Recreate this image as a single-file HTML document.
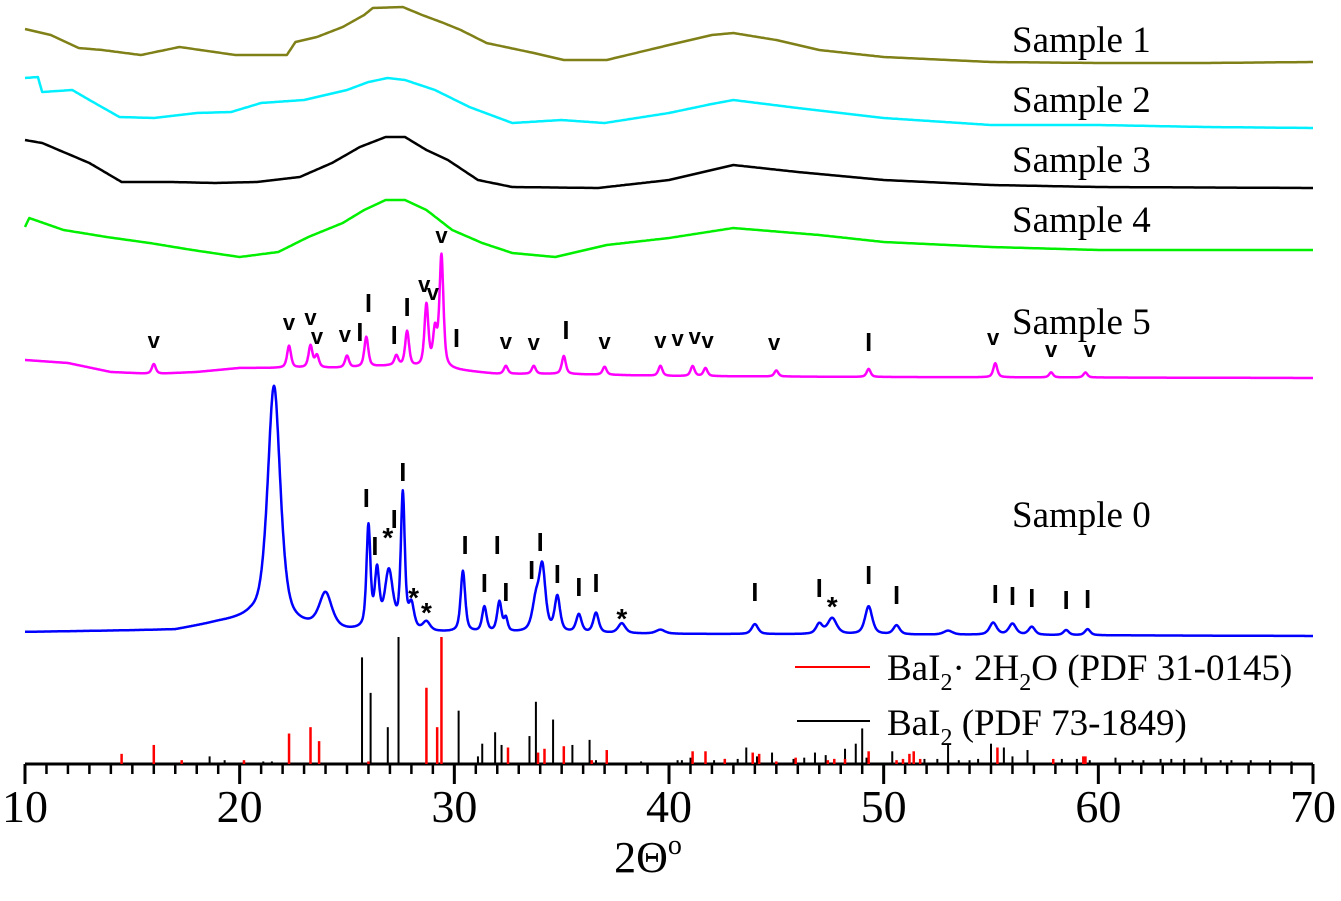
<!DOCTYPE html>
<html><head><meta charset="utf-8"><style>
html,body{margin:0;padding:0;background:#fff;}
svg{display:block;}
text{font-family:"Liberation Serif",serif;}
.m{font-family:"Liberation Sans",sans-serif;font-weight:bold;}
</style></head><body>
<svg id="chart" width="1341" height="901" viewBox="0 0 1341 901" xmlns="http://www.w3.org/2000/svg"></svg>
<script>
// ---- data ----
const xTicks = [10,20,30,40,50,60,70];
const s1T = [10,11.2,12.5,13.6,15.4,17.2,19.8,22.2,22.6,23.6,24.8,25.8,26.2,27.6,28.5,29.5,30.3,31.5,33.7,35.1,37.1,40,42,43,45,47,50,55,60,65,70];
const s1V = [751,745,732,730,725,733,725,725,738,743,753,765,772,773,765,757,750,737,727,720,720,735,745,747,740,730,723,718,717,717,718];
const s2T = [10,10.6,10.8,12.2,13,14.4,16,18,19.6,21,23,25,26,26.9,27.7,29.1,30.7,31.7,32.7,35,37,40,42,43,46,50,55,60,65,70];
const s2V = [702,703,688,690,680,663,662,667,668,677,680,690,698,702,700,690,673,665,657,660,657,667,676,680,672,662,655,655,653,652];
const s3T = [10,10.8,13,14.5,16.9,18.8,20.8,22.8,24.3,25.6,26.8,27.7,28.7,29.7,31.1,32.7,36.7,40,42,43,46,50,55,60,70];
const s3V = [640,637,617,598,598,597,598,603,617,633,643,643,630,620,600,593,592,600,610,615,608,600,595,593,592];
const s4T = [10,10.2,11.8,13.8,15.8,17.8,20,21.8,23.2,24.8,25.8,26.8,27.7,28.7,29.9,31.3,32.7,34.7,37.1,40,43,47,50,55,60,70];
const s4V = [553,562,550,543,537,530,523,528,543,557,570,580,580,570,550,537,527,523,535,542,552,545,538,533,530,530];
const s5BaseT = [10,12,14,16,18,20,22,25,27,30,32,35,40,50,70];
const s5BaseV = [420,417,408,406,408,412,412,412,414,410,406,406,404,403,402];
const s5PeakPos = [16.0,22.3,23.3,23.6,25.0,25.9,27.3,27.8,28.7,29.1,29.4,32.4,33.7,35.1,37.0,39.6,41.1,41.7,45.0,49.3,55.2,57.8,59.4];
const s5PeakH   = [10,22,22,12,12,30,10,35,62,35,112,8,8,18,8,10,10,8,6,8,14,5,5];
const s0BaseT = [10,17,19,20.5,22.5,25,30,40,70];
const s0BaseV = [148,150,157,160,152,148,147,146,144];
const s0PeakPos = [21.6,24.0,26.0,26.4,26.95,27.6,28.0,28.7,30.4,31.4,32.1,32.4,33.8,34.1,34.8,35.8,36.6,37.8,39.6,44.0,47.0,47.6,49.3,50.6,53.0,55.1,56.0,56.9,58.5,59.5];
const s0PeakH   = [238,35,102,56,58,135,24,9,61,25,30,13,30,62,35,18,20,10,4,10,10,16,28,9,4,12,11,8,5,6];
const s0PeakW   = [0.7,0.7,0.22,0.25,0.45,0.22,0.3,0.4,0.25,0.25,0.25,0.2,0.4,0.35,0.3,0.3,0.3,0.4,0.5,0.35,0.35,0.5,0.4,0.35,0.5,0.4,0.4,0.35,0.3,0.3];
const redPos = [14.5,16.0,17.3,20.2,22.3,23.3,23.7,26.0,28.7,29.2,29.4,32.5,33.9,34.2,35.1,36.4,37.1,41.1,41.7,42.6,43.9,44.2,45.0,45.9,47.4,47.7,48.2,49.3,50.6,50.9,51.2,51.4,51.7,55.3,57.9,59.3,59.4];
const redH   = [8,15,3,3,24,29,18,2,60,29,100,13,9,12,14,3,11,10,10,4,9,8,2,5,3,4,4,10,3,4,8,10,4,13,4,6,6];
const blkPos = [17.0,18.6,19.3,21.1,21.5,25.7,26.1,26.9,27.4,30.2,31.1,31.3,31.9,32.2,33.5,33.8,34.6,35.5,36.3,36.6,38.7,40.4,40.6,41.0,42.1,42.6,43.2,43.6,44.1,44.8,45.8,46.3,46.8,47.3,47.7,48.2,48.7,49.0,49.2,50.4,51.9,52.5,53.0,53.5,54.0,54.4,55.0,55.6,56.0,56.7,58.3,59.0,59.6,60.8,61.6,62.1,62.9,63.4,64.0,64.8,65.7,66.2,67.1,68.0,69.0];
const blkH   = [1,6,3,2,2,84,56,29,100,42,6,16,25,15,22,49,35,15,19,3,2,3,3,5,3,4,4,13,6,9,4,5,9,7,4,12,16,28,5,10,4,4,16,3,3,4,16,13,6,11,4,4,3,5,3,3,4,4,4,5,3,3,3,3,2];
const s5MarkSym = ['v','v','v','v','v','I','I','I','I','v','v','v','I','v','v','I','v','v','v','v','v','v','I','v','v','v'];
const s5MarkT   = [16.0,22.3,23.3,23.6,24.9,25.6,26.0,27.2,27.8,28.6,29.0,29.4,30.1,32.4,33.7,35.2,37.0,39.6,40.4,41.2,41.8,44.9,49.3,55.1,57.8,59.6];
const s5MarkV   = [432,450,455,436,438,440,469,437,465,488,480,537,434,431,430,442,431,432,434,436,432,430,430,435,423,423];
const s0MarkSym = ['I','I','*','I','I','*','*','I','I','I','I','I','I','I','I','I','*','I','I','*','I','I','I','I','I','I','I'];
const s0MarkT   = [25.9,26.3,26.9,27.2,27.6,28.1,28.7,30.5,31.4,32.0,32.4,33.6,34.0,34.8,35.8,36.6,37.8,44.0,47.0,47.6,49.3,50.6,55.2,56.0,56.9,58.5,59.5];
const s0MarkV   = [274,226,245,253,300,185,170,227,189,227,180,202,230,198,185,189,164,180,184,176,197,177,178,176,174,172,173];
const sampleLabels = ['Sample 1','Sample 2','Sample 3','Sample 4','Sample 5','Sample 0'];
const sampleLabelV = [740,680,620,560,458,265];

// ---- scales ----
const X0=25, X1=1313, AX_Y=764;
const xS = t => X0 + (t-10)*(X1-X0)/60;
const yS = v => 780 - v;
const stickS = h => AX_Y - h*1.27;

const NS="http://www.w3.org/2000/svg";
const svg=document.getElementById('chart');
function mk(tag,attrs,parent){const e=document.createElementNS(NS,tag);for(const k in attrs)e.setAttribute(k,attrs[k]);(parent||svg).appendChild(e);return e;}
function interp(T,V,t){if(t<=T[0])return V[0];for(let i=1;i<T.length;i++){if(t<=T[i]){const f=(t-T[i-1])/(T[i]-T[i-1]);return V[i-1]+f*(V[i]-V[i-1]);}}return V[V.length-1];}
function smoothPath(T,V){let d='';for(let t=10;t<=70.001;t+=0.1){const v=interp(T,V,t);d+=(d?'L':'M')+xS(t).toFixed(1)+','+yS(v).toFixed(1);}return d;}
function peakPath(BT,BV,P,H,W){let d='';for(let t=10;t<=70.001;t+=0.02){let v=interp(BT,BV,t);for(let i=0;i<P.length;i++){const w=W?W[i]:0.22;const z=(t-P[i])/(w/2);v+=H[i]*(0.6/(1+z*z)+0.4*Math.exp(-0.693*z*z));}d+=(d?'L':'M')+xS(t).toFixed(1)+','+yS(v).toFixed(1);}return d;}

const axis=mk('g',{});


mk('line',{x1:X0,y1:AX_Y,x2:X1,y2:AX_Y,stroke:'#000','stroke-width':3},axis);
for(let t=10;t<=70;t++){
  const major=(t%10===0);
  const tk=mk('line',{x1:xS(t),y1:AX_Y,x2:xS(t),y2:AX_Y+(major?20:10),stroke:'#000','stroke-width':major?3:2.5},axis);
  
  
}
xTicks.forEach(t=>{
  const lb=mk('text',{x:xS(t),y:822,'font-size':46,'text-anchor':'middle',fill:'#000'},axis);
  lb.textContent=t;
  
  
});
const xt=mk('text',{x:648,y:872,'font-size':44,'text-anchor':'middle',fill:'#000'});
xt.textContent='2Θ';
const sup=mk('tspan',{'font-size':28,dy:-18},xt);sup.textContent='o';



const sticks=mk('g',{});


blkPos.forEach((p,i)=>{const l=mk('line',{x1:xS(p),x2:xS(p),y1:AX_Y,y2:stickS(blkH[i]),stroke:'#000','stroke-width':2},sticks);
  
  });
redPos.forEach((p,i)=>{const l=mk('line',{x1:xS(p),x2:xS(p),y1:AX_Y,y2:stickS(redH[i]),stroke:'#ff0000','stroke-width':2.5},sticks);
  
  });

const curves=[
 ['sample-1-curve',smoothPath(s1T,s1V),'#808018'],
 ['sample-2-curve',smoothPath(s2T,s2V),'#00f0ff'],
 ['sample-3-curve',smoothPath(s3T,s3V),'#000000'],
 ['sample-4-curve',smoothPath(s4T,s4V),'#00f000'],
 ['sample-5-curve',peakPath(s5BaseT,s5BaseV,s5PeakPos,s5PeakH,null),'#ff00ff'],
 ['sample-0-curve',peakPath(s0BaseT,s0BaseV,s0PeakPos,s0PeakH,s0PeakW),'#0000ff']
];
curves.forEach(c=>{const p=mk('path',{d:c[1],fill:'none',stroke:c[2],'stroke-width':2.5,'stroke-linejoin':'round'});
  
  });

function marker(sym,t,v){
  if(sym==='I'){const r=mk('rect',{x:xS(t)-1.8,y:yS(v)-17,width:3.6,height:18,fill:'#000'});
    
    }
  else{const tx=mk('text',{x:xS(t),y:yS(v)+(sym==='*'?12:0),'text-anchor':'middle',class:'m',fill:'#000','font-size':sym==='*'?28:22});
    tx.textContent=sym;
    
    }
}
s5MarkSym.forEach((s,i)=>marker(s,s5MarkT[i],s5MarkV[i]));
s0MarkSym.forEach((s,i)=>marker(s,s0MarkT[i],s0MarkV[i]));

sampleLabels.forEach((s,i)=>{const tx=mk('text',{x:1012,y:yS(sampleLabelV[i])+12,'font-size':37,fill:'#000'});
  tx.textContent=s;
  
  });

const lg=mk('g',{});


const e1=mk('g',{},lg);


mk('line',{x1:795,x2:870,y1:667,y2:667,stroke:'#ff0000','stroke-width':2},e1);
const t1=mk('text',{x:887,y:680,'font-size':37,fill:'#000'},e1);
t1.innerHTML='BaI<tspan font-size="24" dy="10">2</tspan><tspan dy="-10">· 2H</tspan><tspan font-size="24" dy="10">2</tspan><tspan dy="-10">O (PDF 31-0145)</tspan>';
const e2=mk('g',{},lg);


mk('line',{x1:797,x2:870,y1:721,y2:721,stroke:'#000','stroke-width':2},e2);
const t2=mk('text',{x:887,y:735,'font-size':37,fill:'#000'},e2);
t2.innerHTML='BaI<tspan font-size="24" dy="10">2</tspan><tspan dy="-10"> (PDF 73-1849)</tspan>';
</script>
</body></html>
